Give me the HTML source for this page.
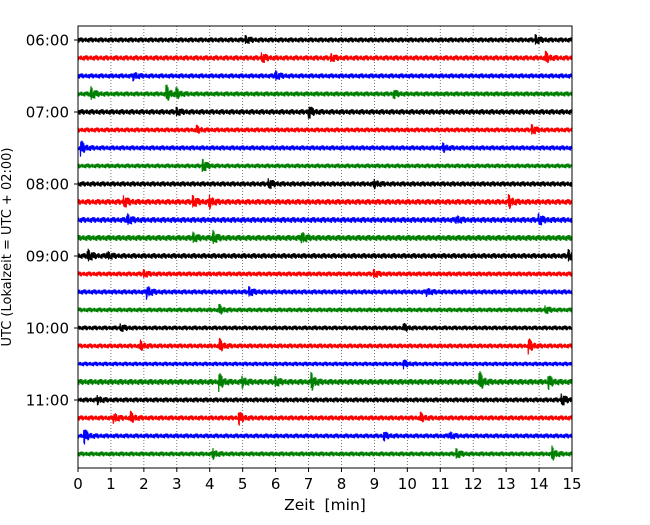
<!DOCTYPE html>
<html><head><meta charset="utf-8"><style>
body{margin:0;background:#fff}
svg text{font-family:"DejaVu Sans","Liberation Sans",sans-serif}
</style></head><body>
<svg id="c" width="650" height="520" xmlns="http://www.w3.org/2000/svg">
<rect x="0" y="0" width="650" height="520" fill="#fff"/>
<g id="grid"></g>
<g id="traces"></g>
<rect x="78" y="26" width="494" height="442" fill="none" stroke="#000" stroke-width="1"/>
<g id="axes"></g>
<text x="11" y="247" font-size="13" text-anchor="middle" transform="rotate(-90 11 247)">UTC (Lokalzeit = UTC + 02:00)</text>
<text x="325" y="510" font-size="15.5" text-anchor="middle" xml:space="preserve">Zeit  [min]</text>
</svg>
<script>
const xTicks=[0,1,2,3,4,5,6,7,8,9,10,11,12,13,14,15];
const yTickLabels=["06:00","07:00","08:00","09:00","10:00","11:00"];
const colors=["#000000","#ff0000","#0000ff","#008000"];
const noiseLevel=[2.6,2.7,2.6,2.6,2.8,2.5,2.6,2.4,2.7,2.9,2.9,3.0,2.8,2.5,2.6,2.4,2.4,2.5,2.3,3.0,2.6,2.6,2.5,2.5];
const traceEvents=[
[[5.1,3],[13.9,4]],
[[5.6,4],[7.7,3],[14.2,5]],
[[1.7,3],[6.0,4]],
[[0.4,6],[2.7,7],[3.0,4],[9.6,3]],
[[3.0,3],[7.0,6]],
[[3.6,3],[13.8,4]],
[[0.1,6],[11.1,3]],
[[3.8,6]],
[[5.8,4],[9.0,3]],
[[1.4,5],[3.5,5],[4.0,5],[13.1,5]],
[[1.5,5],[11.5,3],[14.0,5]],
[[3.5,4],[4.1,6],[6.8,5]],
[[0.3,6],[0.9,3],[14.9,5]],
[[2.0,3],[9.0,3]],
[[2.1,6],[5.2,4],[10.6,3]],
[[4.3,4],[14.2,3]],
[[1.3,3],[9.9,3]],
[[1.9,4],[4.3,6],[13.7,6]],
[[9.9,3]],
[[4.3,7],[5.0,4],[6.0,4],[7.1,7],[12.2,9],[14.3,5]],
[[0.6,3],[14.7,5]],
[[1.1,4],[1.6,5],[4.9,5],[10.4,4]],
[[0.2,6],[9.3,3],[11.3,3]],
[[4.1,4],[11.5,4],[14.4,6]]
];
const noisePattern=[0.8,-0.6,0.3,-0.9,0.5,-0.2,0.95,-0.7,0.1,-0.4,0.7,-1,0.4,-0.3,0.85,-0.55,0.2,-0.8,0.6,-0.1,0.9,-0.65,0.35,-0.95,0.15,-0.45,0.75,-0.25,1,-0.5,0.45,-0.85,0.05,-0.35,0.65,-0.75,0.25,-0.15,0.55,-0.9];
const NS="http://www.w3.org/2000/svg";
const X0=78,X1=572,Y0=26,Y1=468;
const xs=m=>X0+(m/15)*(X1-X0);
const traceY=i=>40+i*18;
function mk(t,a,p){const e=document.createElementNS(NS,t);for(const k in a)e.setAttribute(k,a[k]);p.appendChild(e);return e;}
const grid=document.getElementById('grid'),axes=document.getElementById('axes'),tr=document.getElementById('traces');
xTicks.forEach(v=>{
 const x=xs(v);
 if(v>0&&v<15){const g=mk('line',{x1:x,x2:x,y1:Y0,y2:Y1,stroke:'#555','stroke-width':0.8,'stroke-dasharray':'1,2'},grid);
 
 }
 const t=mk('line',{x1:x,x2:x,y1:Y1,y2:Y1+4,stroke:'#000'},axes);
 
 
 const l=mk('text',{x:x,y:Y1+21,'font-size':15,'text-anchor':'middle'},axes);l.textContent=v;
 
 
});
yTickLabels.forEach((s,i)=>{
 const y=traceY(i*4);
 const t=mk('line',{x1:X0-4,x2:X0,y1:y,y2:y,stroke:'#000'},axes);
 
 
 const l=mk('text',{x:X0-9,y:y+5.5,'font-size':15,'text-anchor':'end'},axes);l.textContent=s;
 
 
});
traceEvents.forEach((ev,i)=>{
 const y=traceY(i);let d='';
 const N=1976;
 for(let k=0;k<=N;k++){
  const m=k/N*15;
  let a=noiseLevel[i];
  ev.forEach(([t0,amp])=>{const dt=m-t0;if(dt>-0.03){a+=amp*Math.exp(-Math.max(dt,0)/0.1);}});
  const n=noisePattern[(k*7+i*13)%noisePattern.length];
  const px=xs(m),py=y+n*a;
  d+=(k?'L':'M')+px.toFixed(2)+' '+py.toFixed(1);
 }
 const p=mk('path',{d:d,fill:'none',stroke:colors[i%4],'stroke-width':1.2},tr);
 
 
});
</script>
</body></html>
